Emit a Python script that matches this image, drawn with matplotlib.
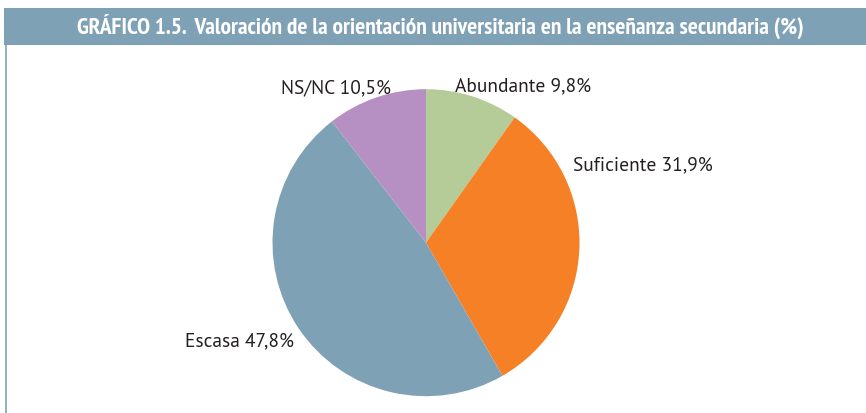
import matplotlib
matplotlib.use("Agg")
import matplotlib.pyplot as plt
from matplotlib import font_manager as fm
from matplotlib.patches import Rectangle
from matplotlib.lines import Line2D

categories = ["Abundante", "Suficiente", "Escasa", "NS/NC"]
values = [9.8, 31.9, 47.8, 10.5]
colors = ["#b5cb98", "#f58025", "#7fa1b5", "#b690c2"]
title = "GRÁFICO 1.5.  Valoración de la orientación universitaria en la enseñanza secundaria (%)"

available = set(f.name for f in fm.fontManager.ttflist)

def pick(options):
    for o in options:
        if o in available:
            return [o, "DejaVu Sans"]
    return ["DejaVu Sans"]

title_fam = pick(["PT Sans Narrow", "Roboto Condensed", "Fira Sans Condensed",
                  "Open Sans Condensed", "Liberation Sans Narrow", "Liberation Sans"])
label_fam = pick(["PT Sans", "Fira Sans", "Liberation Sans"])

W, H = 866, 413
fig = plt.figure(figsize=(W / 100, H / 100), dpi=100)
renderer = fig.canvas.get_renderer()

def fx(x):
    return x / W

def fy(y):
    return 1 - y / H

def fit(t, target_w, size):
    # adjust font size so the text spans the reference width
    t.set_fontsize(size)
    w = t.get_window_extent(renderer).width
    t.set_fontsize(size * target_w / w)

# title bar
fig.patches.append(Rectangle((fx(4), fy(45)), fx(866) - fx(4), fy(8) - fy(45),
                             transform=fig.transFigure, facecolor="#7fa1b5",
                             edgecolor="none"))
tt = fig.text(fx(440.5), fy(26.5), title, color="white", fontweight="bold",
              ha="center", va="center", family=title_fam)
fit(tt, 725, 12)
fig.lines.append(Line2D([fx(6), fx(6)], [fy(45), 0], transform=fig.transFigure,
                        color="#7fa1b5", lw=1.2))

# pie
cx, cy, r = 426, 242.7, 153.5
ax = fig.add_axes([fx(cx - r), fy(cy + r), 2 * r / W, 2 * r / H])
ax.pie(values, colors=colors, startangle=90, counterclock=False, radius=1,
       wedgeprops=dict(linewidth=0))
ax.set_xlim(-1, 1)
ax.set_ylim(-1, 1)
ax.axis("off")

labels = [f"{c} {str(v).replace('.', ',')}%" for c, v in zip(categories, values)]
pos = [(455, 86, "left"), (573, 165, "left"), (294, 341, "right"), (391, 88, "right")]
widths = [135, 132, 103, 122]
sizes = []
texts = []
for lab, (x, y, ha), w in zip(labels, pos, widths):
    t = fig.text(fx(x), fy(y), lab, color="#231f20", ha=ha, va="center",
                 family=label_fam, fontweight="normal")
    fit(t, w, 11.5)
    sizes.append(t.get_fontsize())
    texts.append(t)
avg = sum(sizes) / len(sizes)
for t in texts:
    t.set_fontsize(avg)

fig.savefig("out.png", dpi=100)
